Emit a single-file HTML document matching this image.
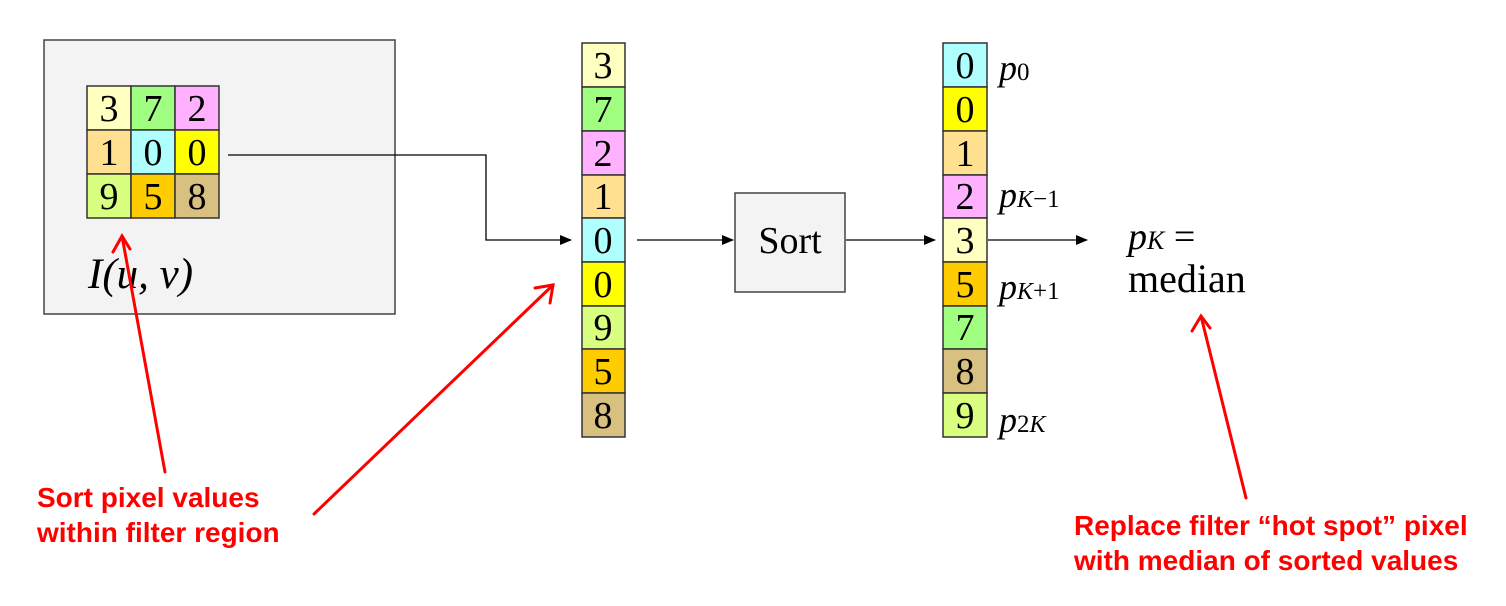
<!DOCTYPE html>
<html><head><meta charset="utf-8"><style>
html,body{margin:0;padding:0;background:#fff}
svg{display:block}
.n{font-family:"Liberation Serif",serif;font-size:38px;fill:#000;text-anchor:middle}
.m{font-family:"Liberation Serif",serif;font-style:italic;font-size:36px;fill:#000}
.s{font-family:"Liberation Serif",serif;font-size:24px;font-style:italic}
.t{font-style:normal;font-size:25px}
.r{font-family:"Liberation Sans",sans-serif;font-weight:bold;font-size:28px;fill:#ff0000}
</style></head><body>
<svg width="1506" height="606" viewBox="0 0 1506 606" xmlns="http://www.w3.org/2000/svg">
<defs>
<marker id="a" markerWidth="12" markerHeight="10" refX="11" refY="5" orient="auto" markerUnits="userSpaceOnUse"><path d="M0,0 L12,5 L0,10 z" fill="#000"/></marker>
</defs>
<rect x="44" y="40" width="351" height="274" fill="#f3f3f3" stroke="#444" stroke-width="1.5"/>
<g stroke="#333" stroke-width="1.5">
<rect x="87" y="86" width="44" height="44" fill="#ffffc0"/><rect x="131" y="86" width="44" height="44" fill="#a0ff80"/><rect x="175" y="86" width="44" height="44" fill="#ffb0ff"/>
<rect x="87" y="130" width="44" height="44" fill="#ffe090"/><rect x="131" y="130" width="44" height="44" fill="#b0ffff"/><rect x="175" y="130" width="44" height="44" fill="#ffff00"/>
<rect x="87" y="174" width="44" height="44" fill="#d8ff80"/><rect x="131" y="174" width="44" height="44" fill="#ffcc00"/><rect x="175" y="174" width="44" height="44" fill="#d8c080"/>
</g>
<g class="n">
<text x="109" y="121">3</text><text x="153" y="121">7</text><text x="197" y="121">2</text>
<text x="109" y="165">1</text><text x="153" y="165">0</text><text x="197" y="165">0</text>
<text x="109" y="209">9</text><text x="153" y="209">5</text><text x="197" y="209">8</text>
</g>
<text x="88" y="288" class="m" style="font-size:43px">I(u, v)</text>

<g stroke="#333" stroke-width="1.5">
<rect x="582" y="43" width="43" height="44" fill="#ffffc0"/>
<rect x="582" y="87" width="43" height="44" fill="#a0ff80"/>
<rect x="582" y="131" width="43" height="44" fill="#ffb0ff"/>
<rect x="582" y="175" width="43" height="43" fill="#ffe090"/>
<rect x="582" y="218" width="43" height="44" fill="#b0ffff"/>
<rect x="582" y="262" width="43" height="44" fill="#ffff00"/>
<rect x="582" y="306" width="43" height="43" fill="#d8ff80"/>
<rect x="582" y="349" width="43" height="44" fill="#ffcc00"/>
<rect x="582" y="393" width="43" height="44" fill="#d8c080"/>
</g>
<g class="n">
<text x="603" y="78">3</text><text x="603" y="122">7</text><text x="603" y="166">2</text><text x="603" y="209">1</text><text x="603" y="253">0</text><text x="603" y="297">0</text><text x="603" y="340">9</text><text x="603" y="384">5</text><text x="603" y="428">8</text>
</g>

<g stroke="#333" stroke-width="1.5">
<rect x="943" y="43" width="44" height="44" fill="#b0ffff"/>
<rect x="943" y="87" width="44" height="44" fill="#ffff00"/>
<rect x="943" y="131" width="44" height="44" fill="#ffe090"/>
<rect x="943" y="175" width="44" height="43" fill="#ffb0ff"/>
<rect x="943" y="218" width="44" height="44" fill="#ffffc0"/>
<rect x="943" y="262" width="44" height="44" fill="#ffcc00"/>
<rect x="943" y="306" width="44" height="43" fill="#a0ff80"/>
<rect x="943" y="349" width="44" height="44" fill="#d8c080"/>
<rect x="943" y="393" width="44" height="44" fill="#d8ff80"/>
</g>
<g class="n">
<text x="965" y="78">0</text><text x="965" y="122">0</text><text x="965" y="166">1</text><text x="965" y="209">2</text><text x="965" y="253">3</text><text x="965" y="297">5</text><text x="965" y="340">7</text><text x="965" y="384">8</text><text x="965" y="428">9</text>
</g>
<text x="999" y="80" class="m">p<tspan class="t">0</tspan></text>
<text x="999" y="207" class="m">p<tspan class="s">K</tspan><tspan class="t">−1</tspan></text>
<text x="999" y="299" class="m">p<tspan class="s">K</tspan><tspan class="t">+1</tspan></text>
<text x="999" y="432" class="m">p<tspan class="t">2</tspan><tspan class="s">K</tspan></text>

<rect x="735" y="193" width="110" height="99" fill="#f3f3f3" stroke="#444" stroke-width="1.5"/>
<text x="790" y="253" class="n" style="font-size:38px">Sort</text>

<text x="1128" y="249" class="m" style="font-size:38px">p<tspan class="s" style="font-size:26px">K</tspan><tspan style="font-style:normal"> =</tspan></text>
<text x="1128" y="292" style="font-family:'Liberation Serif',serif;font-size:40px">median</text>

<g stroke="#000" stroke-width="1.3" fill="none">
<polyline points="228,155 486,155 486,240 571,240" marker-end="url(#a)"/>
<line x1="637" y1="240" x2="733" y2="240" marker-end="url(#a)"/>
<line x1="846" y1="240" x2="935" y2="240" marker-end="url(#a)"/>
<line x1="988" y1="240" x2="1087" y2="240" marker-end="url(#a)"/>
</g>

<g stroke="#ff0000" stroke-width="3" fill="none" stroke-linecap="round">
<line x1="165" y1="472" x2="122" y2="236"/><polyline points="113,252 122,236 130,249"/>
<line x1="314" y1="514" x2="553" y2="285"/><polyline points="535,288 553,285 550,303"/>
<line x1="1246" y1="498" x2="1201" y2="316"/><polyline points="1192,331 1201,316 1210,328"/>
</g>

<text x="37" y="507" class="r">Sort pixel values</text>
<text x="37" y="542" class="r">within filter region</text>
<text x="1074" y="535" class="r">Replace filter “hot spot” pixel</text>
<text x="1074" y="570" class="r">with median of sorted values</text>
</svg>
</body></html>
